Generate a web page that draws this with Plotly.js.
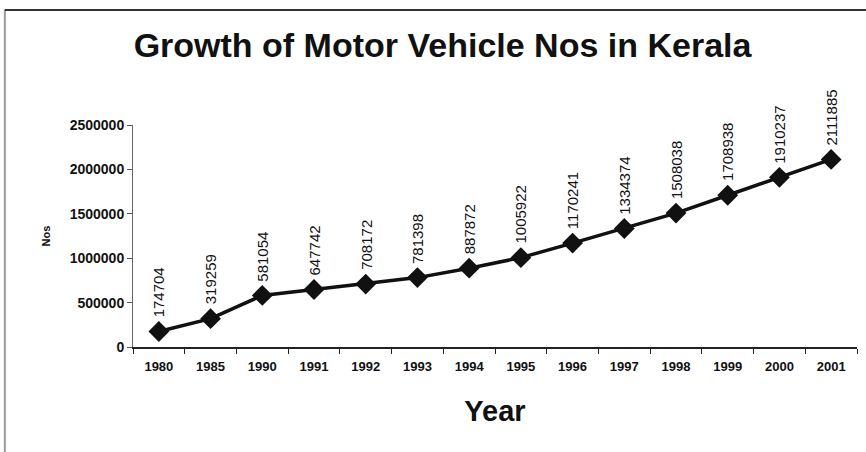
<!DOCTYPE html>
<html>
<head>
<meta charset="utf-8">
<script src="https://cdn.plot.ly/plotly-3.0.1.min.js"></script>
<style>
  html, body { margin: 0; padding: 0; background: #fff; }
  #chart { width: 866px; height: 452px; }
</style>
</head>
<body>
<div id="chart"></div>
<script>
'use strict'

var years = ['1980', '1985', '1990', '1991', '1992', '1993', '1994',
             '1995', '1996', '1997', '1998', '1999', '2000', '2001'];
var vehicles = [174704, 319259, 581054, 647742, 708172, 781398, 887872,
                1005922, 1170241, 1334374, 1508038, 1708938, 1910237, 2111885];

var FONT = 'Liberation Sans, Arial, sans-serif';

var growth = {
    type: 'scatter',
    mode: 'lines+markers',
    x: years,
    y: vehicles,
    line: {color: '#111', width: 3.5},
    marker: {symbol: 'diamond', size: 16, color: '#111'},
    hoverinfo: 'x+y'
}

// value labels, written upward above each point
// (x is the category index, a string would be read as a number here)
var labels = years.map(function(yr, i) {
    return {
        x: i,
        y: vehicles[i],
        text: String(vehicles[i]),
        textangle: -90,
        showarrow: false,
        xanchor: 'center',
        yanchor: 'bottom',
        yshift: 12,
        font: {family: FONT, size: 15, color: '#111'}
    }
});

var layout = {
    width: 866,
    height: 452,
    margin: {l: 133, r: 9, t: 125, b: 105},
    paper_bgcolor: '#fff',
    plot_bgcolor: '#fff',
    showlegend: false,
    title: {
        text: '<b>Growth of Motor Vehicle Nos in Kerala</b>',
        font: {family: FONT, size: 34, color: '#111'},
        xref: 'container',
        yref: 'container',
        x: 0.511,
        y: 0.9,
        xanchor: 'center',
        yanchor: 'middle'
    },
    xaxis: {
        type: 'category',
        range: [-0.5, years.length - 0.5],
        tickson: 'boundaries',
        ticks: 'outside',
        ticklen: 5,
        tickcolor: '#222',
        tickangle: 0,
        ticklabelstandoff: 6,
        showline: true,
        linecolor: '#222',
        linewidth: 2,
        showgrid: false,
        zeroline: false,
        tickfont: {family: FONT, size: 13, color: '#111', weight: 'bold'},
        title: {
            text: '<b>Year</b>',
            font: {family: FONT, size: 29, color: '#111'},
            standoff: 28
        }
    },
    yaxis: {
        range: [0, 2500000],
        dtick: 500000,
        tickformat: 'd',
        ticks: 'outside',
        ticklen: 5,
        tickcolor: '#555',
        showline: true,
        linecolor: '#666',
        linewidth: 1,
        showgrid: false,
        zeroline: false,
        tickfont: {family: FONT, size: 14, color: '#111', weight: 'bold'},
        title: {
            text: '<b>Nos</b>',
            font: {family: FONT, size: 11, color: '#111'},
            standoff: 16
        }
    },
    annotations: labels,
    shapes: [
        // chart frame: left and top edges
        {type: 'line', xref: 'paper', yref: 'paper',
         x0: -0.177, x1: -0.177, y0: 1.52, y1: -0.48,
         line: {color: '#999', width: 2}},
        {type: 'line', xref: 'paper', yref: 'paper',
         x0: -0.177, x1: 1.02, y0: 1.518, y1: 1.518,
         line: {color: '#333', width: 2}}
    ]
}

Plotly.newPlot('chart', [growth], layout, {displayModeBar: false, staticPlot: true});
</script>
</body>
</html>
